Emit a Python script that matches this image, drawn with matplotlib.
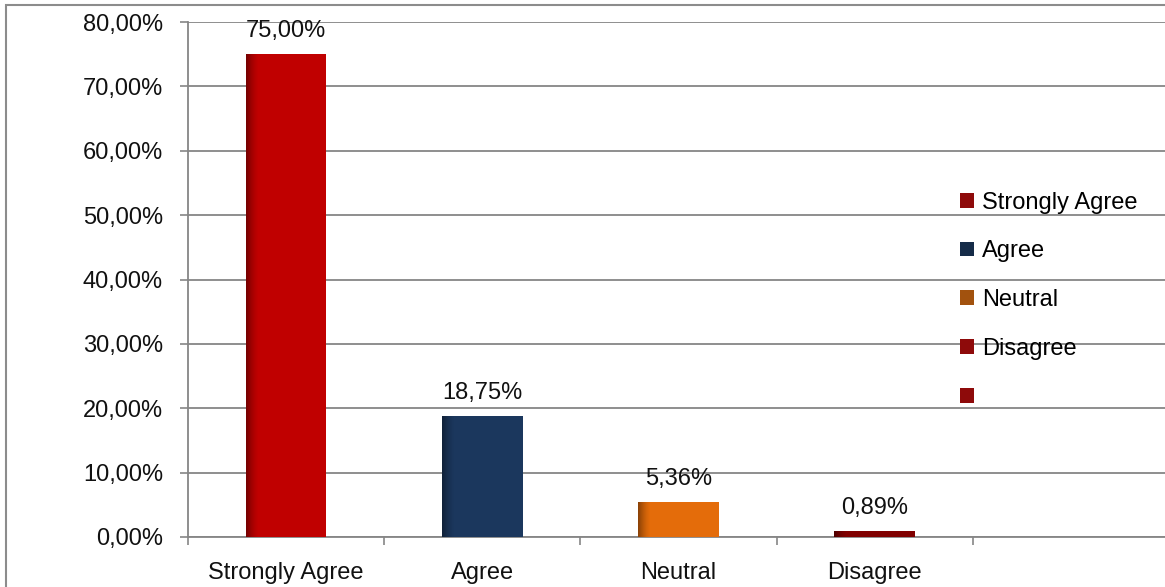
import numpy as np
import matplotlib.pyplot as plt
from matplotlib.patches import Patch, Rectangle

plt.rcParams['font.family'] = ['Liberation Sans', 'DejaVu Sans']

categories = ["Strongly Agree", "Agree", "Neutral", "Disagree", ""]
values = [75.00, 18.75, 5.36, 0.89]
value_labels = ["75,00%", "18,75%", "5,36%", "0,89%"]
bar_colors = ["#C00000", "#1B375D", "#E46C0A", "#800000"]
legend_labels = ["Strongly Agree", "Agree", "Neutral", "Disagree", ""]
legend_colors = ["#8E0A0A", "#152B48", "#A2520E", "#8E0A0A", "#8E0A0A"]
y_ticks = [0, 10, 20, 30, 40, 50, 60, 70, 80]
y_tick_labels = ["0,00%", "10,00%", "20,00%", "30,00%", "40,00%",
                 "50,00%", "60,00%", "70,00%", "80,00%"]

axis_grey = "#868686"
W, H = 1165, 587

fig = plt.figure(figsize=(W / 100, H / 100), dpi=100)
# outer chart border
fig.patches.append(Rectangle((6 / W, -0.1), 1.2, 1 - 5 / H + 0.1, transform=fig.transFigure,
                             fill=False, edgecolor="#8c8c8c", linewidth=1.5))

ax = fig.add_axes([188 / W, 50 / H, 981 / W, 515 / H])
x = np.arange(len(values))
bars = ax.bar(x, values, width=0.41, color=bar_colors, zorder=3)

# darker shading at the left edge of each bar
shade = np.zeros((2, 60, 4))
shade[..., 3] = np.linspace(0.55, 0.0, 60) ** 1.5
for b in bars:
    x0, w, h = b.get_x(), b.get_width(), b.get_height()
    ax.imshow(shade, extent=(x0, x0 + w * 0.16, 0, h), aspect="auto", zorder=4,
              interpolation="bilinear")

for b, lab in zip(bars, value_labels):
    ax.annotate(lab, (b.get_x() + b.get_width() / 2, b.get_height()),
                xytext=(0, 9), textcoords="offset points", ha="center", va="bottom",
                fontsize=17, color="#111111")

ax.set_xlim(-0.5, len(categories) - 0.5)
ax.set_ylim(0, 80)
ax.set_yticks(y_ticks)
ax.set_yticklabels(y_tick_labels)
ax.set_xticks(np.arange(len(categories)))
ax.set_xticklabels(categories)
ax.set_xticks(np.arange(len(categories)) - 0.5, minor=True)
ax.tick_params(axis="x", which="major", length=0, pad=18, labelsize=17, colors="#111111")
ax.tick_params(axis="x", which="minor", length=6, width=1.2, color=axis_grey)
ax.tick_params(axis="y", length=6, width=1.2, color=axis_grey, pad=12,
               labelsize=17, labelcolor="#111111")
ax.grid(axis="y", color=axis_grey, linewidth=1.3, zorder=0)
ax.set_axisbelow(True)
for s in ["top", "right"]:
    ax.spines[s].set_visible(False)
for s in ["left", "bottom"]:
    ax.spines[s].set_color(axis_grey)
    ax.spines[s].set_linewidth(1.3)

handles = [Patch(facecolor=c, edgecolor="none") for c in legend_colors]
fig.legend(handles, legend_labels, loc="center left",
           bbox_to_anchor=(960 / W, 1 - 300 / H), frameon=False, fontsize=17,
           handlelength=0.6, handleheight=0.6, handletextpad=0.35,
           labelspacing=1.13, borderpad=0, borderaxespad=0)

fig.savefig("out.png", dpi=100)
